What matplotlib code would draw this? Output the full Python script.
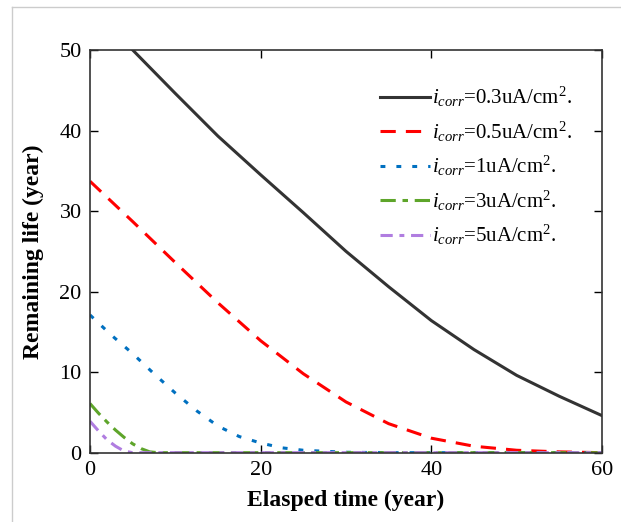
import numpy as np
import matplotlib.pyplot as plt
from matplotlib.lines import Line2D

plt.rcParams['font.family'] = 'Liberation Serif'
plt.rcParams['mathtext.fontset'] = 'custom'
plt.rcParams['mathtext.rm'] = 'Liberation Serif'
plt.rcParams['mathtext.it'] = 'Liberation Serif:italic'

t_black = [0, 5, 10, 15, 20, 25, 30, 35, 40, 45, 50, 55, 60]
v_black = [55.3, 50.0, 44.6, 39.3, 34.5, 29.8, 25.0, 20.6, 16.4, 12.8, 9.6, 7.0, 4.6]

t_red = [0, 5, 10, 15, 20, 25, 30, 35, 40, 45, 50, 55, 60]
v_red = [33.7, 28.7, 23.6, 18.6, 13.9, 9.8, 6.3, 3.6, 1.8, 0.8, 0.3, 0.1, 0.0]

t_blue = [0, 2.5, 5, 7.5, 10, 12.5, 15, 17.5, 20, 22.5, 25, 30, 35, 60]
v_blue = [17.1, 14.6, 12.3, 9.8, 7.4, 5.2, 3.3, 2.0, 1.2, 0.6, 0.3, 0.05, 0.0, 0.0]

t_green = [0, 1, 2, 3, 4, 5, 6, 7, 8, 60]
v_green = [6.1, 4.9, 3.8, 2.8, 1.9, 1.1, 0.5, 0.1, 0.0, 0.0]

t_purple = [0, 1, 2, 3, 4, 5, 60]
v_purple = [3.9, 2.7, 1.6, 0.8, 0.2, 0.0, 0.0]

labels = [r'$i_{corr}$=0.3uA/cm$^2$.', r'$i_{corr}$=0.5uA/cm$^2$.',
          r'$i_{corr}$=1uA/cm$^2$.', r'$i_{corr}$=3uA/cm$^2$.',
          r'$i_{corr}$=5uA/cm$^2$.']

fig = plt.figure(figsize=(6.21, 5.22), dpi=100)
ax = fig.add_axes([0.1449, 0.1328, 0.8245, 0.7715])

lw = 2.2
ax.plot(t_black, v_black, color='#333333', lw=lw, label=labels[0])
ax.plot(t_red, v_red, color='#ff0000', lw=lw, dashes=(5.0, 3.3), label=labels[1])
ax.plot(t_blue, v_blue, color='#0070c0', lw=lw, dashes=(1.6, 3.6), label=labels[2])
ax.plot(t_green, v_green, color='#5ea52a', lw=lw, dashes=(5.0, 2.2, 1.8, 2.2), label=labels[3])
ax.plot(t_purple, v_purple, color='#b07de0', lw=lw, dashes=(4.0, 2.2, 1.6, 2.2), label=labels[4])

ax.set_xlim(0, 60)
ax.set_ylim(0, 50)
ax.set_xticks([0, 20, 40, 60])
ax.set_yticks([0, 10, 20, 30, 40, 50])
ax.tick_params(direction='in', top=True, right=True, length=6, width=1, labelsize=16, pad=6)
for s in ax.spines.values():
    s.set_linewidth(1.2)
    s.set_color('#333333')

ax.set_xlabel('Elasped time (year)', fontsize=17, fontweight='bold', labelpad=7)
ax.set_ylabel('Remaining life (year)', fontsize=17, fontweight='bold', labelpad=11)

ax.legend(loc='upper left', bbox_to_anchor=(0.529, 0.96), frameon=False, fontsize=15,
          handlelength=2.4, handletextpad=0.1, labelspacing=0.5)

# light frame of the original picture
fig.add_artist(Line2D([12 / 621, 12 / 621], [0, 1 - 7 / 522], transform=fig.transFigure,
                      color='#cccccc', lw=1))
fig.add_artist(Line2D([12 / 621, 1], [1 - 7 / 522, 1 - 7 / 522], transform=fig.transFigure,
                      color='#cccccc', lw=1))

fig.savefig('out.png', dpi=100)
